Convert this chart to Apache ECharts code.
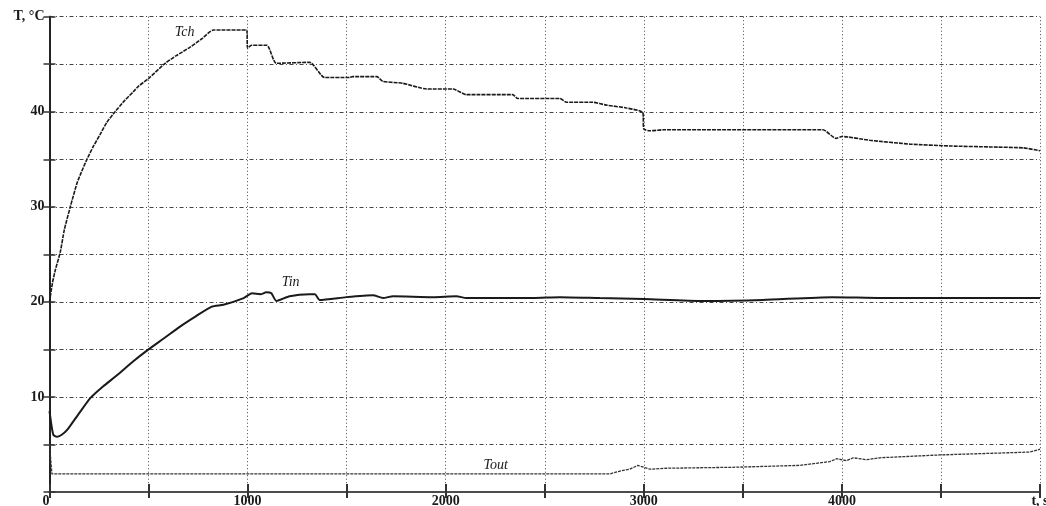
<!DOCTYPE html>
<html>
<head>
<meta charset="utf-8">
<script src="https://cdn.jsdelivr.net/npm/echarts@6/dist/echarts.min.js"></script>
<style>html,body{margin:0;padding:0;background:#fff}#c{width:1046px;height:506px}</style>
</head>
<body>
<div id="c"></div>
<script>
var tchTime = [0,15,30,54,75,105,139,160,189,220,255,290,331,380,423,450,500,584,640,710,770,828,995,1000,1020,1097,1145,1313,1389,1515,1530,1652,1683,1783,1904,2036,2104,2338,2364,2576,2610,2742,2811,2912,2995,3000,3030,3100,3904,3970,4000,4141,4343,4545,4747,4916,5000];
var tchTemp = [20.0,22.0,23.4,25.2,27.6,30.0,32.5,33.6,35.0,36.3,37.6,38.9,40.0,41.2,42.1,42.7,43.5,45.1,45.9,46.8,47.7,48.6,48.6,46.7,47.0,47.0,45.1,45.2,43.6,43.6,43.7,43.7,43.2,43.0,42.4,42.4,41.8,41.8,41.4,41.4,41.0,41.0,40.7,40.4,39.9,38.2,38.0,38.1,38.1,37.2,37.4,37.0,36.6,36.4,36.3,36.2,35.9];

var tinTime = [0,10,20,37,60,88,150,207,270,342,420,500,580,659,740,819,878,980,1022,1065,1094,1120,1145,1212,1313,1340,1364,1498,1633,1684,1734,1936,2054,2104,2441,2576,2778,3000,3300,3600,3950,4200,5000];
var tinTemp = [8.5,7.0,6.0,5.8,6.0,6.5,8.3,9.9,11.1,12.3,13.7,15.0,16.2,17.4,18.5,19.5,19.7,20.4,20.9,20.8,21.0,20.9,20.1,20.6,20.8,20.8,20.2,20.5,20.7,20.4,20.6,20.5,20.6,20.4,20.4,20.5,20.4,20.3,20.1,20.2,20.5,20.4,20.4];

var toutTime = [0,12,2828,2880,2929,2970,3030,3114,3451,3788,3939,3973,4024,4057,4125,4192,4495,4798,4949,5000];
var toutTemp = [5.0,1.9,1.9,2.2,2.4,2.8,2.4,2.5,2.6,2.8,3.2,3.5,3.3,3.6,3.4,3.6,3.9,4.1,4.2,4.5];

var seriesNames = ['Tch','Tin','Tout'];
var labelPos = [[682,48.4],[1217,22.1],[2253,2.8]];

function pairs(t, v){ var out=[]; for(var i=0;i<t.length;i++) out.push([t[i], v[i]]); return out; }

var chart = echarts.init(document.getElementById('c'));
var ink = '#1a1a1a';
var labelFont = {fontFamily:'Liberation Serif', fontWeight:'bold', fontSize:14, color:ink};

function mark(i){
  return {symbol:'circle', symbolSize:0, silent:true,
    label:{show:true, formatter:seriesNames[i], position:'inside', fontFamily:'Liberation Serif', fontStyle:'italic', fontSize:14, color:ink},
    data:[{coord:labelPos[i]}]};
}

chart.setOption({
  animation:false,
  backgroundColor:'#fff',
  grid:{left:49.5, right:6, top:16.7, bottom:14, containLabel:false, outerBoundsMode:'none'},
  xAxis:[{
    type:'value', min:0, max:5000, interval:500,
    axisLine:{show:true, lineStyle:{color:'#333', width:2}},
    axisTick:{show:true, inside:true, length:8, lineStyle:{color:'#333', width:2}},
    axisLabel:Object.assign({margin:2, formatter:function(v){ if(v===5000) return 't, s'; return v%1000===0 ? String(v) : ''; }, alignMinLabel:'right'}, labelFont),
    splitLine:{show:true, lineStyle:{color:'#444', width:1, type:[1,2.5]}}
  },{
    type:'value', min:0, max:5000, interval:500, position:'top',
    axisLine:{show:true, lineStyle:{color:'#555', width:1.5}},
    axisTick:{show:true, inside:true, length:6, lineStyle:{color:'#333', width:2}},
    axisLabel:{show:false}, splitLine:{show:false}
  }],
  yAxis:[{
    type:'value', min:0, max:50, interval:5,
    axisLine:{show:true, lineStyle:{color:'#333', width:2}},
    axisTick:{show:true, inside:true, length:6, lineStyle:{color:'#333', width:1.5}},
    axisLabel:Object.assign({margin:5, formatter:function(v){ if(v===50) return 'T, °C'; if(v===0) return ''; return v%10===0 ? String(v) : ''; }}, labelFont),
    splitLine:{show:true, lineStyle:{color:'#444', width:1, type:[4,2.5,1,2.5]}}
  },{
    type:'value', min:0, max:50, interval:5, position:'right',
    axisLine:{show:true, lineStyle:{color:'#222', width:2}},
    axisTick:{show:true, inside:true, length:6, lineStyle:{color:'#333', width:1.5}},
    axisLabel:{show:false}, splitLine:{show:false}
  }],
  series:[
    {name:seriesNames[0], type:'line', showSymbol:false, smooth:0.2, data:pairs(tchTime,tchTemp),
     lineStyle:{color:ink, width:1.6, type:[4,1]}, markPoint:mark(0)},
    {name:seriesNames[1], type:'line', showSymbol:false, smooth:0.2, data:pairs(tinTime,tinTemp),
     lineStyle:{color:ink, width:2}, markPoint:mark(1)},
    {name:seriesNames[2], type:'line', showSymbol:false, data:pairs(toutTime,toutTemp),
     lineStyle:{color:'#333', width:1.3, type:[3,1]}, markPoint:mark(2)}
  ]
});
</script>
</body>
</html>
